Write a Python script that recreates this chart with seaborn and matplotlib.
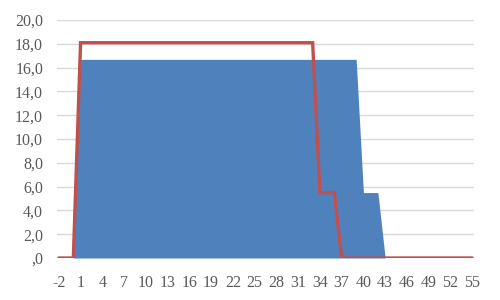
import matplotlib
matplotlib.use("Agg")
import matplotlib.pyplot as plt
import seaborn as sns
import pandas as pd

days = [-2, -1, 0, 1, 2, 3, 4, 5, 6, 7,
        8, 9, 10, 11, 12, 13, 14, 15, 16, 17,
        18, 19, 20, 21, 22, 23, 24, 25, 26, 27,
        28, 29, 30, 31, 32, 33, 34, 35, 36, 37,
        38, 39, 40, 41, 42, 43, 44, 45, 46, 47,
        48, 49, 50, 51, 52, 53, 54, 55]

blue_area = [0, 0, 0, 16.7, 16.7, 16.7, 16.7, 16.7, 16.7, 16.7,
             16.7, 16.7, 16.7, 16.7, 16.7, 16.7, 16.7, 16.7, 16.7, 16.7,
             16.7, 16.7, 16.7, 16.7, 16.7, 16.7, 16.7, 16.7, 16.7, 16.7,
             16.7, 16.7, 16.7, 16.7, 16.7, 16.7, 16.7, 16.7, 16.7, 16.7,
             16.7, 16.7, 5.5, 5.5, 5.5, 0, 0, 0, 0, 0,
             0, 0, 0, 0, 0, 0, 0, 0]

red_line = [0, 0, 0, 18.1, 18.1, 18.1, 18.1, 18.1, 18.1, 18.1,
            18.1, 18.1, 18.1, 18.1, 18.1, 18.1, 18.1, 18.1, 18.1, 18.1,
            18.1, 18.1, 18.1, 18.1, 18.1, 18.1, 18.1, 18.1, 18.1, 18.1,
            18.1, 18.1, 18.1, 18.1, 18.1, 18.1, 5.5, 5.5, 5.5, 0,
            0, 0, 0, 0, 0, 0, 0, 0, 0, 0,
            0, 0, 0, 0, 0, 0, 0, 0]

x_tick_labels = ["-2", "1", "4", "7", "10", "13", "16", "19", "22", "25", "28",
                 "31", "34", "37", "40", "43", "46", "49", "52", "55"]
y_ticks = [0, 2, 4, 6, 8, 10, 12, 14, 16, 18, 20]
y_tick_labels = [",0", "2,0", "4,0", "6,0", "8,0", "10,0", "12,0", "14,0",
                 "16,0", "18,0", "20,0"]

df = pd.DataFrame({"day": days, "blue": blue_area, "red": red_line})

sns.set_theme(style="white")
plt.rcParams["font.family"] = ["Liberation Serif", "DejaVu Serif"]

fig = plt.figure(figsize=(5, 3), dpi=100)
ax = fig.add_axes([0.114, 0.14, 0.834, 0.793])

ax.fill_between(df["day"], 0, df["blue"], color="#4F81BD", linewidth=0, zorder=2)
sns.lineplot(data=df, x="day", y="red", ax=ax, color="#C0504D", linewidth=2.4,
             zorder=3, solid_joinstyle="miter")

ax.set_xlim(-2.25, 55.25)
ax.set_ylim(0, 20)
ax.set_yticks(y_ticks)
ax.set_yticklabels(y_tick_labels)
ax.set_xticks([int(s) for s in x_tick_labels])
ax.set_xticklabels(x_tick_labels)
ax.yaxis.grid(True, color="#D9D9D9", linewidth=1.0, zorder=0)
ax.set_axisbelow(True)
ax.xaxis.grid(False)
for sp in ax.spines.values():
    sp.set_visible(False)
ax.tick_params(axis="both", length=0, labelsize=11.5, colors="#595959")
ax.tick_params(axis="y", pad=10)
ax.tick_params(axis="x", pad=12)
ax.set_xlabel("")
ax.set_ylabel("")

fig.savefig("out.png", dpi=100)
